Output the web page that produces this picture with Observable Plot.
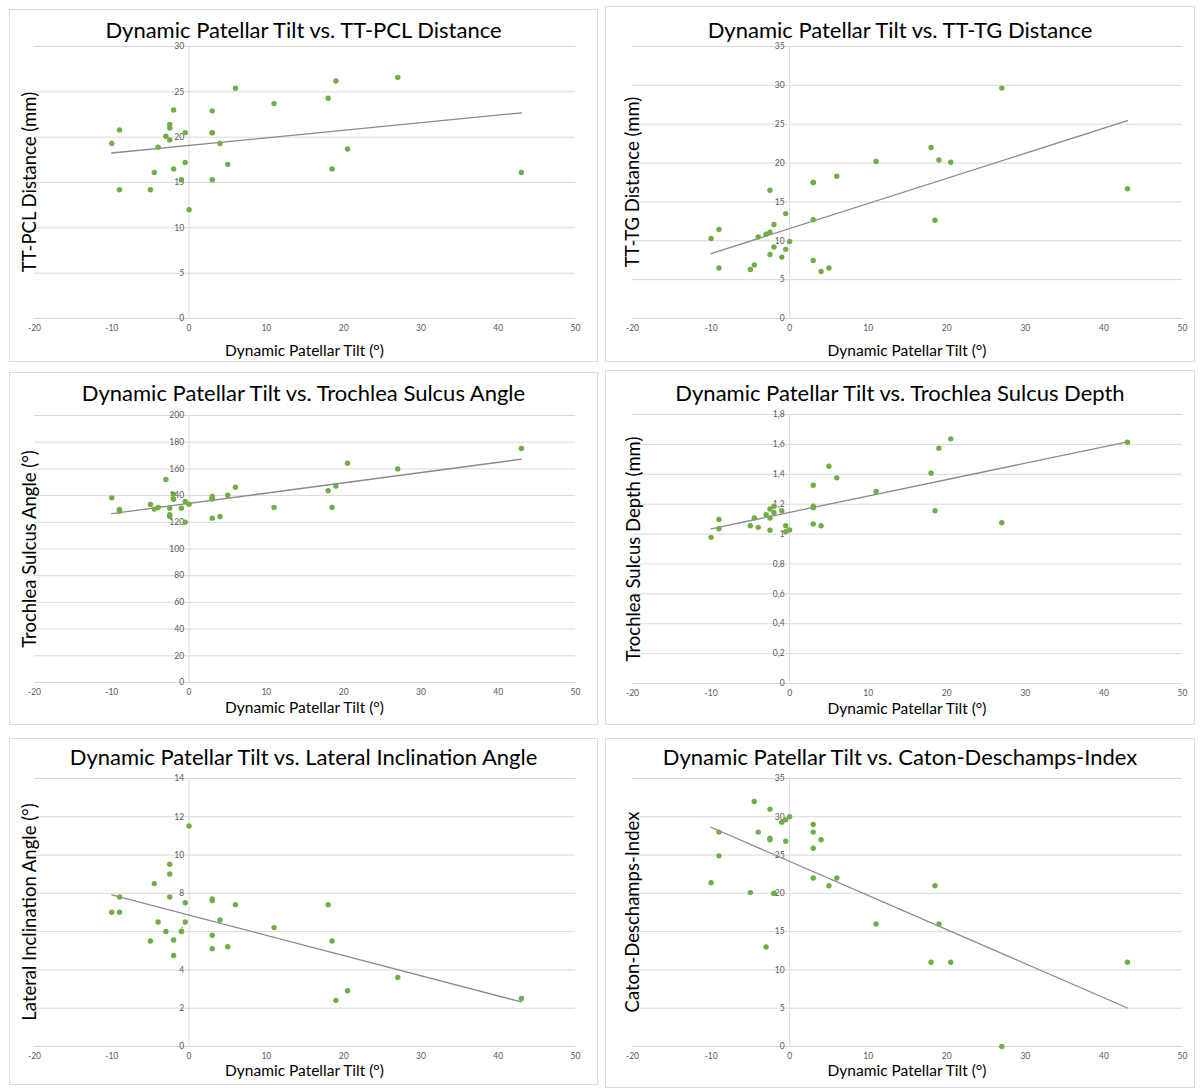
<!DOCTYPE html>
<html><head><meta charset="utf-8">
<script src="https://cdn.jsdelivr.net/npm/d3@7"></script>
<script src="https://cdn.jsdelivr.net/npm/@observablehq/plot@0.6"></script>
<style>
body{margin:0;background:#fff;}
#root{position:relative;width:1200px;height:1088px;overflow:hidden;font-family:Lato,"Open Sans",sans-serif;}
.box{position:absolute;border:1px solid #dcdcdc;box-sizing:border-box;background:#fff;}
.plotwrap{position:absolute;}
.title{position:absolute;white-space:nowrap;transform:translate(-50%,-50%);color:#000;font-size:22px;line-height:1;}
.xtitle{position:absolute;white-space:nowrap;transform:translate(-50%,-50%);color:#000;font-size:15.5px;line-height:1;}
.ytitle{position:absolute;white-space:nowrap;transform:translate(-50%,-50%) rotate(-90deg);color:#000;font-size:18.5px;line-height:1;}
</style></head><body><div id="root"></div>
<script>
// Shared x values: Dynamic Patellar Tilt (°)
const tilt = [-10, -9, -9, -5, -4.5, -4, -3, -2.5, -2.5, -2.5, -2, -2, -1, -0.5, -0.5, 0, 3, 3, 3, 3, 4, 5, 6, 11, 18, 18.5, 19, 20.5, 27, 43];

// Series values
const ttPcl = [19.3, 20.8, 14.2, 14.2, 16.1, 18.9, 20.1, 21.4, 21.0, 19.7, 23.0, 16.5, 15.3, 20.5, 17.2, 12.0, 22.9, 20.5, 20.5, 15.3, 19.3, 17.0, 25.4, 23.7, 24.3, 16.5, 26.2, 18.7, 26.6, 16.1];
const ttTg = [10.3, 11.45, 6.5, 6.3, 6.9, 10.5, 10.85, 11.1, 16.5, 8.24, 12.1, 9.2, 7.9, 13.5, 8.9, 9.9, 17.5, 17.5, 12.7, 7.46, 6.05, 6.5, 18.3, 20.2, 22.0, 12.65, 20.4, 20.1, 29.65, 16.7];
const sulcusAngle = [138.3, 129.6, 128.3, 133.3, 129.9, 131.1, 152.1, 130.6, 125.6, 124.3, 141.1, 137.3, 130.6, 135.6, 120.1, 133.6, 139.3, 137.6, 137.6, 123.1, 124.3, 140.3, 146.3, 131.1, 143.6, 131.1, 147.1, 164.3, 160.0, 175.3];
const sulcusDepth = [0.978, 1.098, 1.036, 1.056, 1.107, 1.045, 1.13, 1.168, 1.107, 1.025, 1.186, 1.145, 1.156, 1.056, 1.016, 1.027, 1.327, 1.187, 1.176, 1.067, 1.056, 1.454, 1.376, 1.285, 1.407, 1.156, 1.575, 1.637, 1.076, 1.615];
const lateralInclination = [7.01, 7.81, 7.01, 5.51, 8.51, 6.50, 6.01, 9.52, 9.01, 7.81, 5.56, 4.76, 6.01, 7.51, 6.50, 11.52, 7.71, 7.62, 5.81, 5.11, 6.61, 5.21, 7.41, 6.21, 7.41, 5.51, 2.41, 2.91, 3.61, 2.51];
const catonDeschamps = [21.4, 28.0, 24.9, 20.1, 32.0, 28.0, 13.0, 31.0, 27.2, 27.0, 20.0, 20.0, 29.3, 29.6, 26.8, 30.0, 29.0, 28.0, 25.9, 22.0, 27.0, 21.0, 22.0, 16.0, 11.0, 21.0, 16.0, 11.0, 0, 11.0];

// Tick values and labels
const xTicks = [-20, -10, 0, 10, 20, 30, 40, 50];
const ticksPcl = [0, 5, 10, 15, 20, 25, 30];
const ticks35 = [0, 5, 10, 15, 20, 25, 30, 35];
const ticksAngle = [0, 20, 40, 60, 80, 100, 120, 140, 160, 180, 200];
const ticksDepth = [0, 0.2, 0.4, 0.6, 0.8, 1, 1.2, 1.4, 1.6, 1.8];
const ticksDepthLabels = ["0", "0,2", "0,4", "0,6", "0,8", "1", "1,2", "1,4", "1,6", "1,8"];
const ticksLia = [0, 2, 4, 6, 8, 10, 12, 14];

const titles = [
  "Dynamic Patellar Tilt vs. TT-PCL Distance",
  "Dynamic Patellar Tilt vs. TT-TG Distance",
  "Dynamic Patellar Tilt vs. Trochlea Sulcus Angle",
  "Dynamic Patellar Tilt vs. Trochlea Sulcus Depth",
  "Dynamic Patellar Tilt vs. Lateral Inclination Angle",
  "Dynamic Patellar Tilt vs. Caton-Deschamps-Index"
];
const yTitles = ["TT-PCL Distance (mm)", "TT-TG Distance (mm)", "Trochlea Sulcus Angle (°)", "Trochlea Sulcus Depth (mm)", "Lateral Inclination Angle (°)", "Caton-Deschamps-Index"];
const xTitle = "Dynamic Patellar Tilt (°)";
const series = [ttPcl, ttTg, sulcusAngle, sulcusDepth, lateralInclination, catonDeschamps];
const yTickSets = [ticksPcl, ticks35, ticksAngle, ticksDepth, ticksLia, ticks35];
const yTickLabelSets = [ticksPcl.map(String), ticks35.map(String), ticksAngle.map(String), ticksDepthLabels, ticksLia.map(String), ticks35.map(String)];

// Layout (page pixel coordinates)
const layout = [
  {box: [9, 9, 598, 362],   frame: [34, 46, 575, 318],   titleY: 30,  xTitleY: 351,  yTitleX: 29},
  {box: [605, 6, 1195, 362], frame: [632, 46, 1182, 318], titleY: 30,  xTitleY: 351,  yTitleX: 632},
  {box: [9, 372, 598, 725], frame: [34, 415, 575, 682],  titleY: 393, xTitleY: 708,  yTitleX: 29},
  {box: [605, 370, 1195, 725], frame: [632, 414, 1182, 683], titleY: 393, xTitleY: 709, yTitleX: 633},
  {box: [9, 738, 598, 1085], frame: [34, 778, 575, 1046], titleY: 757, xTitleY: 1071, yTitleX: 29},
  {box: [605, 738, 1195, 1088], frame: [632, 778, 1182, 1046], titleY: 757, xTitleY: 1071, yTitleX: 632}
];

const root = document.getElementById("root");
function el(cls, text, x, y) {
  const d = document.createElement("div");
  d.className = cls;
  if (text != null) d.textContent = text;
  d.style.left = x + "px";
  d.style.top = y + "px";
  root.appendChild(d);
  return d;
}

layout.forEach((L, i) => {
  const [bx0, by0, bx1, by1] = L.box;
  const [fx0, fy0, fx1, fy1] = L.frame;
  const box = el("box", null, bx0, by0);
  box.style.width = (bx1 - bx0) + "px";
  box.style.height = (by1 - by0) + "px";

  const data = tilt.map((t, k) => ({x: t, y: series[i][k]}));
  const yt = yTickSets[i];
  const ytl = yTickLabelSets[i];
  const ymax = yt[yt.length - 1];
  const W = bx1 - bx0, H = by1 - by0;

  const chart = Plot.plot({
    width: W,
    height: H,
    marginLeft: fx0 - bx0,
    marginRight: bx1 - fx1,
    marginTop: fy0 - by0,
    marginBottom: by1 - fy1,
    style: {fontFamily: "Lato, 'Open Sans', sans-serif", fontSize: "8.5px", color: "#595959", background: "transparent", overflow: "visible"},
    x: {domain: [-20, 50], axis: null},
    y: {domain: [0, ymax], axis: null},
    marks: [
      Plot.ruleY(yt, {stroke: "#d9d9d9", strokeWidth: 1}),
      Plot.ruleX([0], {stroke: "#d9d9d9", strokeWidth: 1}),
      Plot.text(yt, {x: 0, y: d => d, text: (d, k) => ytl[k], textAnchor: "end", dx: -5, fill: "#595959"}),
      Plot.text(xTicks, {x: d => d, frameAnchor: "bottom", dy: 12, text: d => String(d), fill: "#595959"}),
      Plot.linearRegressionY(data, {x: "x", y: "y", stroke: "#8a8a8a", strokeWidth: 1.3, ci: 0}),
      Plot.dot(data, {x: "x", y: "y", r: 2.7, fill: "#70AD47", stroke: null})
    ]
  });
  const wrap = el("plotwrap", null, bx0, by0);
  wrap.appendChild(chart);

  el("title", titles[i], (bx0 + bx1) / 2, L.titleY);
  el("xtitle", xTitle, (fx0 + fx1) / 2, L.xTitleY);
  el("ytitle", yTitles[i], L.yTitleX, (fy0 + fy1) / 2);
});
</script>
</body></html>
